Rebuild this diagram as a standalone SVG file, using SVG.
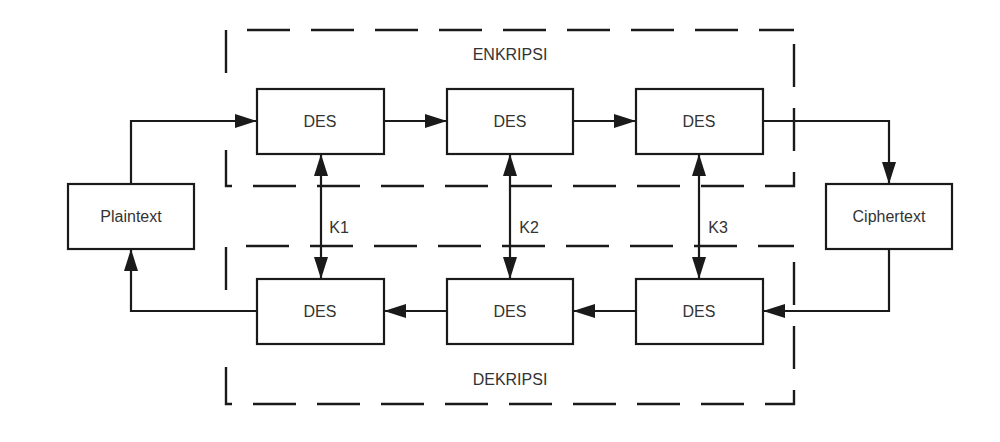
<svg xmlns="http://www.w3.org/2000/svg" width="1000" height="442" viewBox="0 0 1000 442">
<style>
.box{fill:#fff;stroke:#1a1a1a;stroke-width:2.2}
.dash{fill:none;stroke:#1a1a1a;stroke-width:2.4;stroke-dasharray:43 21}
.ln{fill:none;stroke:#1a1a1a;stroke-width:2.2}
.t{font-family:"Liberation Sans",Arial,sans-serif;font-size:16px;fill:#333;text-anchor:middle}
</style>
<defs>
<marker id="ah" viewBox="0 0 22 14" refX="22" refY="7" markerWidth="22" markerHeight="14" markerUnits="userSpaceOnUse" orient="auto-start-reverse">
<path d="M0,0 L22,7 L0,14 Z" fill="#1a1a1a"/>
</marker>
</defs>
<rect width="1000" height="442" fill="#fff"/>
<g id="enkripsi-group">
<path class="dash" d="M226,73 L226,30 L794,30 M794,44 L794,186 L226,186 L226,150"/>
<text class="t" x="510" y="60">ENKRIPSI</text>
</g>
<g id="dekripsi-group">
<path class="dash" d="M226,290 L226,246 L794,246 M794,262 L794,404 L226,404 L226,360"/>
<text class="t" x="510" y="385">DEKRIPSI</text>
</g>
<g id="connectors">
<path class="ln" d="M131,184 L131,121 L257,121" marker-end="url(#ah)"/>
<path class="ln" d="M384,121 L447,121" marker-end="url(#ah)"/>
<path class="ln" d="M573,121 L636,121" marker-end="url(#ah)"/>
<path class="ln" d="M763,121 L889,121 L889,184" marker-end="url(#ah)"/>
<path class="ln" d="M889,249 L889,311 L763,311" marker-end="url(#ah)"/>
<path class="ln" d="M636,311 L573,311" marker-end="url(#ah)"/>
<path class="ln" d="M447,311 L384,311" marker-end="url(#ah)"/>
<path class="ln" d="M257,311 L131,311 L131,249" marker-end="url(#ah)"/>
<path class="ln" d="M321,154 L321,279" marker-start="url(#ah)" marker-end="url(#ah)"/>
<path class="ln" d="M510,154 L510,279" marker-start="url(#ah)" marker-end="url(#ah)"/>
<path class="ln" d="M699,154 L699,279" marker-start="url(#ah)" marker-end="url(#ah)"/>
<text class="t" x="339" y="233">K1</text>
<text class="t" x="529" y="233">K2</text>
<text class="t" x="718" y="233">K3</text>
</g>
<g id="plaintext"><rect class="box" x="68" y="184" width="126" height="65"/><text class="t" x="131" y="222">Plaintext</text></g>
<g id="ciphertext"><rect class="box" x="826" y="184" width="126" height="65"/><text class="t" x="889" y="222">Ciphertext</text></g>
<g id="des-e1"><rect class="box" x="257" y="89" width="127" height="65"/><text class="t" x="320" y="127">DES</text></g>
<g id="des-e2"><rect class="box" x="447" y="89" width="126" height="65"/><text class="t" x="510" y="127">DES</text></g>
<g id="des-e3"><rect class="box" x="636" y="89" width="127" height="65"/><text class="t" x="699" y="127">DES</text></g>
<g id="des-d1"><rect class="box" x="257" y="279" width="127" height="65"/><text class="t" x="320" y="317">DES</text></g>
<g id="des-d2"><rect class="box" x="447" y="279" width="126" height="65"/><text class="t" x="510" y="317">DES</text></g>
<g id="des-d3"><rect class="box" x="636" y="279" width="127" height="65"/><text class="t" x="699" y="317">DES</text></g>
</svg>
